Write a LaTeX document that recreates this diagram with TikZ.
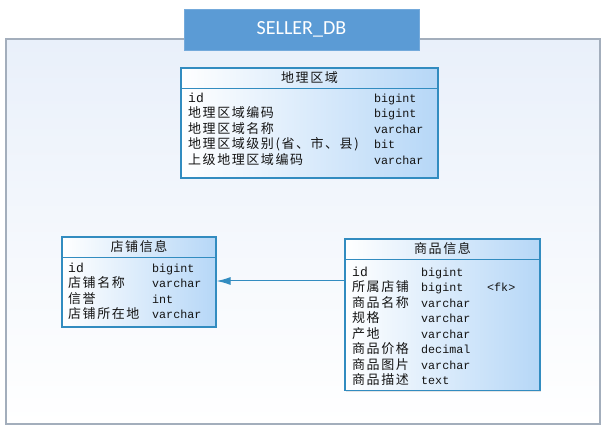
\documentclass[tikz,border=0pt]{standalone}
\usepackage{fontspec}
\usetikzlibrary{arrows.meta,shadows}
\newfontfamily\cjk{Noto Sans CJK SC}[LetterSpace=12]
\newfontfamily\monof{Liberation Mono}
\newfontfamily\titlef{Carlito}
\definecolor{dbFrame}{RGB}{163,174,188}
\definecolor{dbBack}{RGB}{233,240,250}
\definecolor{dbTitle}{RGB}{91,155,213}
\definecolor{tblBorder}{RGB}{50,140,192}
\definecolor{tblFill}{RGB}{182,215,247}
\definecolor{tblText}{RGB}{20,20,20}

\begin{document}
\begin{tikzpicture}[x=1pt, y=-1pt,
    tbl/.style={rectangle, draw=tblBorder, line width=1.2pt, left color=white, right color=tblFill, inner sep=0pt,
        drop shadow={shadow xshift=1.2pt, shadow yshift=-1.2pt, opacity=0.2, fill=gray}},
    tblhead/.style={inner sep=0pt, text=tblText, font=\cjk\fontsize{13}{15}\selectfont},
    rowname/.style={anchor=base west, inner sep=0pt, text=tblText, font=\cjk\fontsize{13}{15}\selectfont},
    rowtype/.style={anchor=base west, inner sep=0pt, text=tblText, font=\monof\fontsize{11.7}{14}\selectfont},
    sepline/.style={draw=tblBorder, line width=1.2pt},
    fkline/.style={draw=tblBorder, line width=1pt, -{Latex[length=14pt, width=8pt]}}]
\useasboundingbox (0,0) rectangle (606,433);

% database frame and title
\node[rectangle, draw=dbFrame, line width=1.5pt, top color=dbBack, bottom color=white, minimum width=594pt, minimum height=385pt] (frame) at (303,231.5) {};
\node[rectangle, draw=dbTitle!85!white, fill=dbTitle, minimum width=235pt, minimum height=41pt, text=white, font=\titlef\fontsize{20}{24}\selectfont,
    drop shadow={shadow xshift=1.2pt, shadow yshift=-1.2pt, opacity=0.2, fill=gray}] (title) at (301.5,29.5) {SELLER\_DB};

% 地理区域
\node[tbl, minimum width=257pt, minimum height=110pt] (region) at (309.5,123) {};
\node[tblhead] (regionhd) at ([yshift=-10.5pt]region.north) {地理区域};
\draw[sepline] ([yshift=-21pt]region.north west) -- ([yshift=-21pt]region.north east);
\foreach \n/\t [count=\i] in {{\monof id}/bigint, 地理区域编码/bigint, 地理区域名称/varchar, 地理区域级别(省、市、县)/bit, 上级地理区域编码/varchar} {
    \node[rowname] (rgn\i) at (188,{86.7+15.5*\i}) {\n};
    \node[rowtype] (rgt\i) at (374,{86.7+15.5*\i}) {\t};
}

% 店铺信息
\node[tbl, minimum width=154pt, minimum height=90pt] (shop) at (139,282) {};
\node[tblhead] (shophd) at ([yshift=-10.5pt]shop.north) {店铺信息};
\draw[sepline] ([yshift=-21pt]shop.north west) -- ([yshift=-21pt]shop.north east);
\foreach \n/\t [count=\i] in {{\monof id}/bigint, 店铺名称/varchar, 信誉/int, 店铺所在地/varchar} {
    \node[rowname] (spn\i) at (68,{256.7+15.5*\i}) {\n};
    \node[rowtype] (spt\i) at (152,{256.7+15.5*\i}) {\t};
}

% 商品信息
\node[tbl, minimum width=195pt, minimum height=151.5pt] (goods) at (442.5,314.75) {};
\node[tblhead] (goodshd) at ([yshift=-10.5pt]goods.north) {商品信息};
\draw[sepline] ([yshift=-21.5pt]goods.north west) -- ([yshift=-21.5pt]goods.north east);
\foreach \n/\t [count=\i] in {{\monof id}/bigint, 所属店铺/bigint, 商品名称/varchar, 规格/varchar, 产地/varchar, 商品价格/decimal, 商品图片/varchar, 商品描述/text} {
    \node[rowname] (gdn\i) at (352,{260.7+15.5*\i}) {\n};
    \node[rowtype] (gdt\i) at (421,{260.7+15.5*\i}) {\t};
}
\node[rowtype] (gdfk) at (487,{260.7+15.5*2}) {<fk>};

% foreign key
\coordinate (fkpt) at (0,281);
\draw[fkline] (goods.west |- fkpt) -- (shop.east |- fkpt);
\end{tikzpicture}
\end{document}
